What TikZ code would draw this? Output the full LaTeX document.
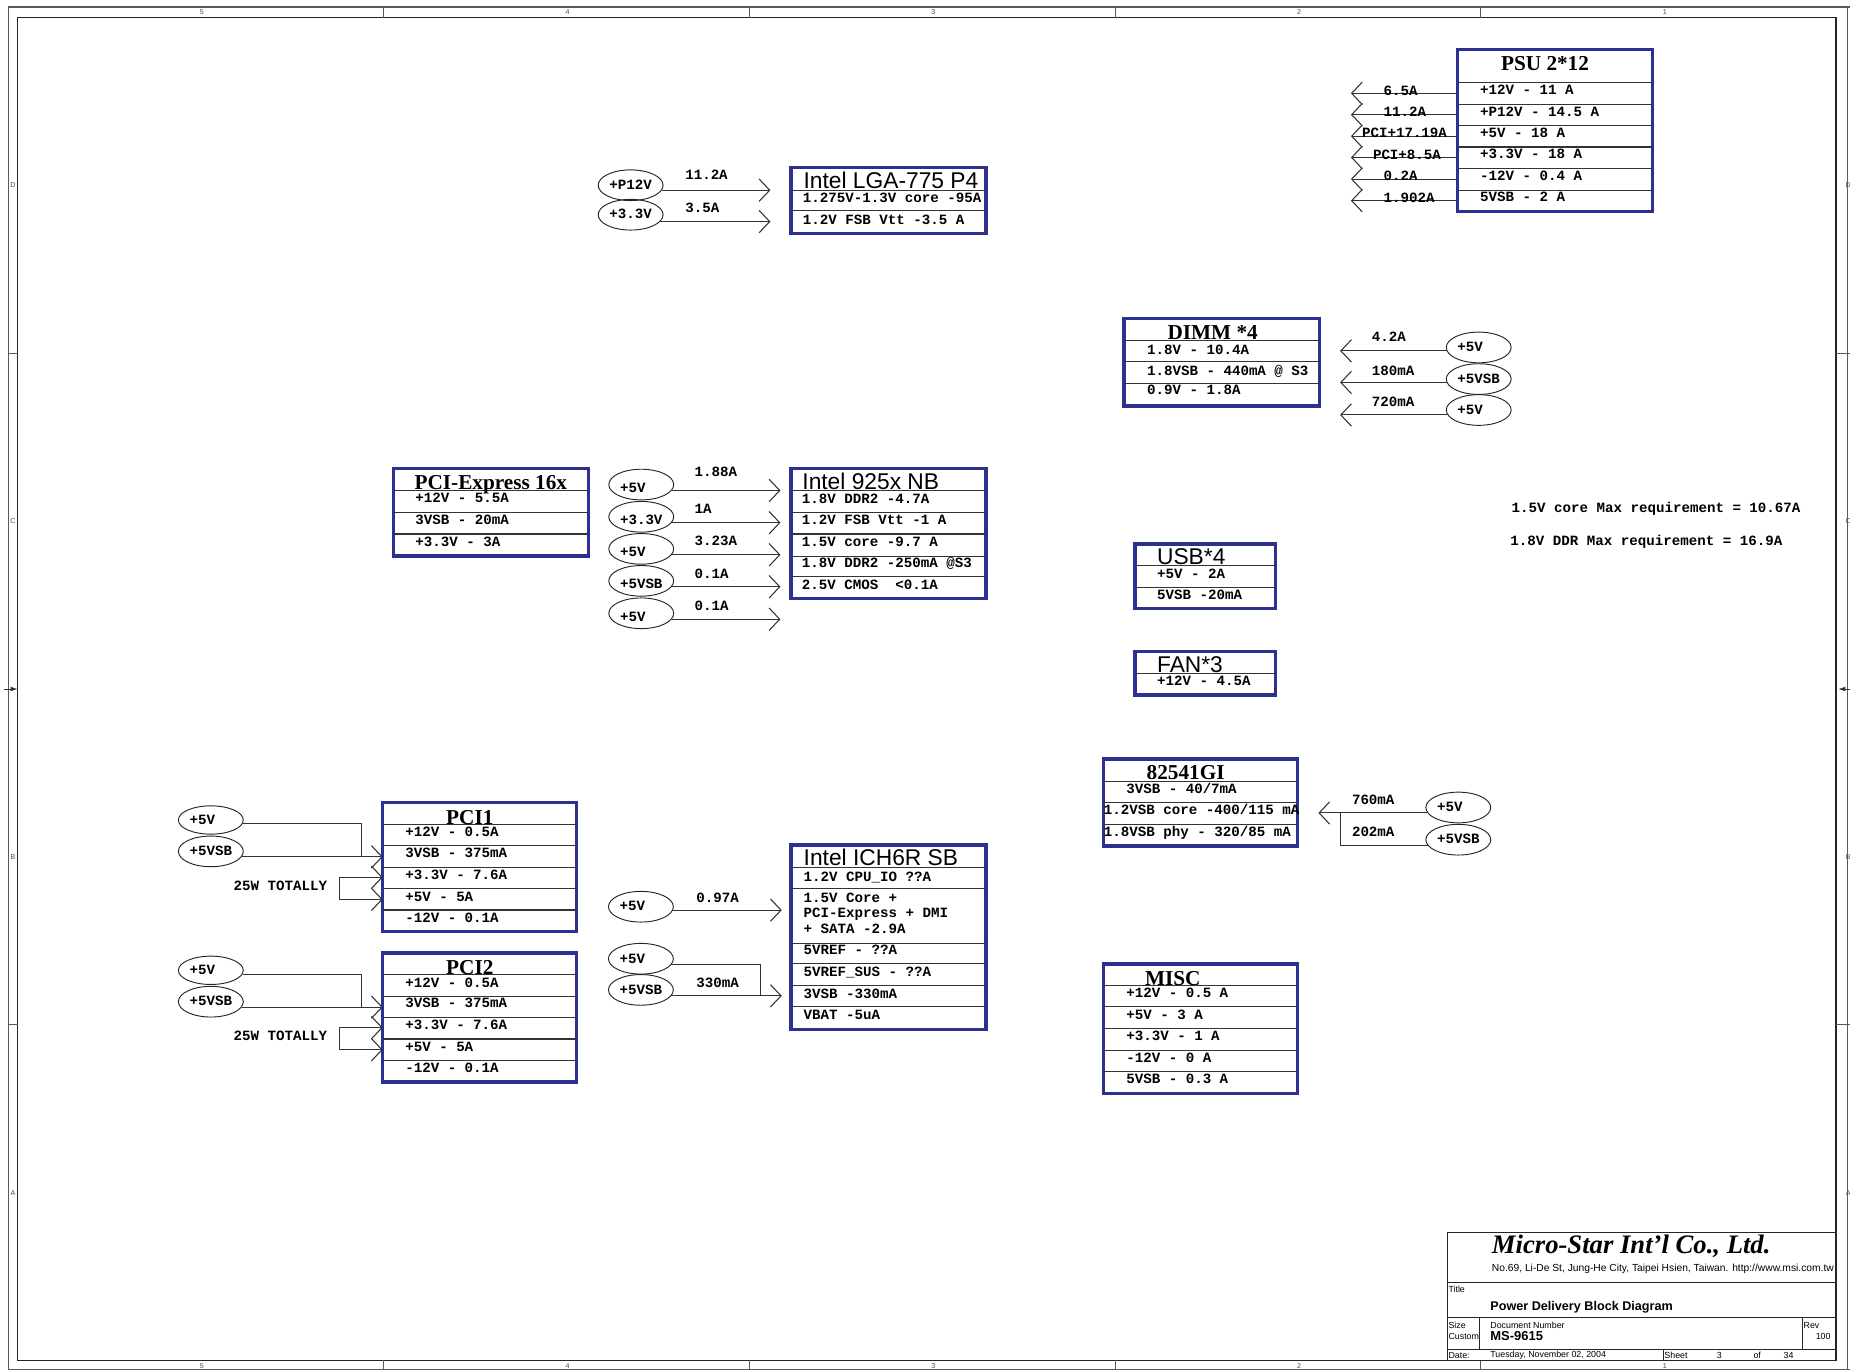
\documentclass[tikz,border=0pt]{standalone}
\usepackage{fontspec}
\setmainfont{Liberation Serif}
\newfontfamily\monof{Liberation Mono}
\newfontfamily\sansf{Liberation Sans}
\usetikzlibrary{arrows.meta,shapes.geometric}
\definecolor{navy}{RGB}{44,48,145}
\tikzset{
 box/.style={draw=navy, line width=2.8pt, anchor=north west, inner sep=0pt, outer sep=0pt},
 sepl/.style={draw=black!80, line width=0.9pt},
 rt/.style={anchor=base west, inner sep=0pt, font=\monof\bfseries\fontsize{12}{12}\selectfont},
 tserif/.style={anchor=base, inner sep=0pt, font=\bfseries\fontsize{18}{18}\selectfont},
 tsans/.style={anchor=base west, inner sep=0pt, font=\sansf\fontsize{19.3}{19.3}\selectfont},
 pwr/.style={ellipse, draw=black!85, line width=0.8pt, minimum width=55pt, minimum height=26pt, inner sep=0pt, text width=36pt, align=left, text height=7.2pt, text depth=0pt, font=\monof\bfseries\fontsize{12}{12}\selectfont},
 pwrlow/.style={pwr, text height=13.5pt},
 wire/.style={draw=black!80, line width=0.9pt},
 arr/.style={wire, -{Straight Barb[length=9pt,width=19pt]}},
 barr/.style={wire, {Straight Barb[length=9pt,width=19pt]}-{Straight Barb[length=9pt,width=19pt]}},
 tbl/.style={draw=black!85, line width=0.9pt},
 tbs/.style={inner sep=0pt, font=\sansf\fontsize{7.5}{7.5}\selectfont},
 flbl/.style={inner sep=0pt, text=black!70, font=\sansf\fontsize{6}{6}\selectfont},
}
\begin{document}
\begin{tikzpicture}[x=1pt,y=-1pt]
\useasboundingbox (0,0) rectangle (1568,1161);
\clip (0,0) rectangle (1568,1161);
% ---------------- frame
\draw[black!65, line width=1.2pt] (7,6) -- (1575,6) (7,6) -- (7,1161) (7,1161) -- (1575,1161);
\draw[black!85, line width=1.2pt] (15,15) rectangle (1556,1153);
\draw[black!65, line width=0.9pt] (1566,6) -- (1566,1161);
\foreach \x in {325,635,945,1255} {\draw[black!65, line width=0.7pt] (\x,6) -- (\x,15) (\x,1153) -- (\x,1161);}
\foreach \x/\l in {171/5,481/4,791/3,1101/2,1411/1} {\node[flbl] at (\x,10.5) {\l}; \node[flbl] at (\x,1157.5) {\l};}
\foreach \y in {299.5,868.5} {\draw[black!65, line width=0.7pt] (7,\y) -- (15,\y) (1556,\y) -- (1568,\y);}
\foreach \y/\l in {157/D,442/C,726/B,1011/A} {\node[flbl] at (11,\y) {\l}; \node[flbl] at (1566.5,\y) {\l};}
\draw[black!80, line width=0.7pt, -{Latex[length=6pt,width=4pt]}] (3,584) -- (15,584);
\draw[black!80, line width=0.7pt, -{Latex[length=6pt,width=4pt]}] (1568,584) -- (1558,584);

% ---------------- Intel LGA-775 P4
\node[box, minimum width=165.2pt, minimum height=56pt] (lga) at (670.5,141.8) {};
\draw[sepl] (670.5,161.6) -- (835.7,161.6) (670.5,178.8) -- (835.7,178.8);
\node[tsans] (lgat) at (680.9,159.6) {Intel LGA-775 P4};
\node[rt] (lga1) at (680.3,172) {1.275V-1.3V core -95A};
\node[rt] (lga2) at (680.3,190) {1.2V FSB Vtt -3.5 A};
\node[pwr] (lgae1) at (534.5,157) {+P12V};
\node[pwr] (lgae2) at (534.5,182) {+3.3V};
\coordinate (lgatip) at (653,0);
\draw[arr] (lgae1.-9) -- (lgae1.-9 -| lgatip);
\draw[arr] (lgae2.-13) -- (lgae2.-13 -| lgatip);
\node[rt] (lgal1) at (580.6,152.5) {11.2A};
\node[rt] (lgal2) at (580.6,180.5) {3.5A};

% ---------------- PSU 2*12
\node[box, minimum width=164.8pt, minimum height=137.6pt] (psu) at (1235.5,41.8) {};
\foreach \y in {69.8,88.2,106.5,124.6,142.8,161.1} {\draw[sepl] (1235.5,\y) -- (1400.3,\y);}
\node[tserif] (psut) at (1309.5,59.9) {PSU 2*12};
\node[rt] (psu1) at (1254.3,80.4) {+12V - 11 A};
\node[rt] (psu2) at (1254.3,98.4) {+P12V - 14.5 A};
\node[rt] (psu3) at (1254.3,116.6) {+5V - 18 A};
\node[rt] (psu4) at (1254.3,134.5) {+3.3V - 18 A};
\node[rt] (psu5) at (1254.3,152.6) {-12V - 0.4 A};
\node[rt] (psu6) at (1254.3,171.1) {5VSB - 2 A};
\coordinate (pp1) at (1145,79.1);
\coordinate (pp2) at (1145,97.2);
\coordinate (pp3) at (1145,115.4);
\coordinate (pp4) at (1145,133.5);
\coordinate (pp5) at (1145,151.8);
\coordinate (pp6) at (1145,170.1);
\foreach \p in {pp1,pp2,pp3,pp4,pp5,pp6} {\draw[arr] (psu.west |- \p) -- (\p);}
\node[rt] (psul1) at (1172.5,80.6) {6.5A};
\node[rt] (psul2) at (1172.5,98.6) {11.2A};
\node[rt] (psul3) at (1154.2,116.8) {PCI+17.19A};
\node[rt] (psul4) at (1163.5,134.8) {PCI+8.5A};
\node[rt] (psul5) at (1172.5,153.1) {0.2A};
\node[rt] (psul6) at (1172.5,171.5) {1.902A};

% ---------------- DIMM*4
\node[box, minimum width=165.6pt, minimum height=74.2pt] (dimm) at (952.7,269.8) {};
\foreach \y in {288.2,306.5,325} {\draw[sepl] (952.7,\y) -- (1118.3,\y);}
\node[tserif] (dimmt) at (1027.8,288) {DIMM *4};
\node[rt] (dimm1) at (972,300.2) {1.8V - 10.4A};
\node[rt] (dimm2) at (972,318) {1.8VSB - 440mA @ S3};
\node[rt] (dimm3) at (972,334.5) {0.9V - 1.8A};
\node[pwr] (de1) at (1253.3,294.5) {+5V};
\node[pwr] (de2) at (1253.3,321.3) {+5VSB};
\node[pwr] (de3) at (1253.3,347.5) {+5V};
\coordinate (dtip) at (1135.8,0);
\draw[arr] (de1.186) -- (de1.186 -| dtip);
\draw[arr] (de2.186) -- (de2.186 -| dtip);
\draw[arr] (de3.189) -- (de3.189 -| dtip);
\node[rt] (dl1) at (1162.6,289.5) {4.2A};
\node[rt] (dl2) at (1162.6,318) {180mA};
\node[rt] (dl3) at (1162.6,344.8) {720mA};

% ---------------- PCI-Express 16x
\node[box, minimum width=165pt, minimum height=74.3pt] (pcie) at (333.5,397) {};
\foreach \y in {415.9,434.3,452.6} {\draw[sepl] (333.5,\y) -- (498.5,\y);}
\node[tserif] (pciet) at (416,415) {PCI-Express 16x};
\node[rt] (pcie1) at (351.9,425.9) {+12V - 5.5A};
\node[rt] (pcie2) at (351.9,444.8) {3VSB - 20mA};
\node[rt] (pcie3) at (351.9,463.2) {+3.3V - 3A};

% ---------------- Intel 925x NB
\node[box, minimum width=165.2pt, minimum height=110.1pt] (nb) at (670.5,397) {};
\foreach \y in {415.9,434.3,452.6,471.3,488.8} {\draw[sepl] (670.5,\y) -- (835.7,\y);}
\node[tsans] (nbt) at (679.9,414.6) {Intel 925x NB};
\node[rt] (nb1) at (679.5,426.4) {1.8V DDR2 -4.7A};
\node[rt] (nb2) at (679.5,444.8) {1.2V FSB Vtt -1 A};
\node[rt] (nb3) at (679.5,463.2) {1.5V core -9.7 A};
\node[rt] (nb4) at (679.5,481) {1.8V DDR2 -250mA @S3};
\node[rt] (nb5) at (679.5,500) {2.5V CMOS\ \ <0.1A};
\node[pwrlow] (ne1) at (543.5,410.7) {+5V};
\node[pwrlow] (ne2) at (543.5,438) {+3.3V};
\node[pwrlow] (ne3) at (543.5,465.2) {+5V};
\node[pwrlow] (ne4) at (543.5,492.3) {+5VSB};
\node[pwrlow] (ne5) at (543.5,519.8) {+5V};
\coordinate (ntip) at (661.5,0);
\foreach \e in {ne1,ne2,ne3,ne4,ne5} {\draw[arr] (\e.-11) -- (\e.-11 -| ntip);}
\node[rt] (nl1) at (588.5,404) {1.88A};
\node[rt] (nl2) at (588.5,435.2) {1A};
\node[rt] (nl3) at (588.5,462.6) {3.23A};
\node[rt] (nl4) at (588.5,490) {0.1A};
\node[rt] (nl5) at (588.5,517.1) {0.1A};

% ---------------- requirements
\node[rt] (req1) at (1281,434.5) {1.5V core Max requirement = 10.67A};
\node[rt] (req2) at (1280,462.5) {1.8V DDR Max requirement = 16.9A};

% ---------------- USB*4 / FAN*3
\node[box, minimum width=119pt, minimum height=55pt] (usb) at (962,461) {};
\foreach \y in {479.5,497.8} {\draw[sepl] (962,\y) -- (1081,\y);}
\node[tsans] (usbt) at (980.5,478.8) {USB*4};
\node[rt] (usb1) at (980.5,490.2) {+5V - 2A};
\node[rt] (usb2) at (980.5,507.8) {5VSB -20mA};
\node[box, minimum width=119pt, minimum height=37pt] (fan) at (962,552) {};
\draw[sepl] (962,571) -- (1081,571);
\node[tsans] (fant) at (980.5,570.2) {FAN*3};
\node[rt] (fan1) at (980.5,581.3) {+12V - 4.5A};

% ---------------- 82541GI
\node[box, minimum width=164.4pt, minimum height=73.8pt] (gi) at (935.2,643.3) {};
\foreach \y in {662,680,698.7} {\draw[sepl] (935.2,\y) -- (1099.6,\y);}
\node[tserif] (git) at (1004.9,660.5) {82541GI};
\node[rt] (gi1) at (954.4,672.5) {3VSB - 40/7mA};
\node[rt] (gi2) at (935.5,690.6) {1.2VSB core -400/115 mA};
\node[rt] (gi3) at (935.5,709) {1.8VSB phy - 320/85 mA};
\node[pwr] (ge1) at (1236,684.4) {+5V};
\node[pwr] (ge2) at (1236,711.7) {+5VSB};
\coordinate (gtip) at (1117.4,0);
\coordinate (gj) at (1135.8,0);
\draw[arr] (ge1.190) -- (ge1.190 -| gtip);
\draw[wire] (ge2.191) -| (ge1.190 -| gj);
\node[rt] (gl1) at (1145.7,681.5) {760mA};
\node[rt] (gl2) at (1145.7,709) {202mA};

% ---------------- MISC
\node[box, minimum width=164.4pt, minimum height=109.6pt] (misc) at (935.2,817.1) {};
\foreach \y in {835.5,853.3,871.6,890,908.4} {\draw[sepl] (935.2,\y) -- (1099.6,\y);}
\node[tserif] (misct) at (994,834.9) {MISC};
\node[rt] (misc1) at (954.4,845.5) {+12V - 0.5 A};
\node[rt] (misc2) at (954.4,863.8) {+5V - 3 A};
\node[rt] (misc3) at (954.4,881.6) {+3.3V - 1 A};
\node[rt] (misc4) at (954.4,900.5) {-12V - 0 A};
\node[rt] (misc5) at (954.4,918.3) {5VSB - 0.3 A};

% ---------------- Intel ICH6R SB
\node[box, minimum width=165.2pt, minimum height=156.3pt] (ich) at (670.5,716.2) {};
\foreach \y in {735.2,753,799.6,816.5,834.9,853.3} {\draw[sepl] (670.5,\y) -- (835.7,\y);}
\node[tsans] (icht) at (681,733.8) {Intel ICH6R SB};
\node[rt] (ich1) at (680.9,746.8) {1.2V CPU\_IO ??A};
\node[rt] (ich2a) at (680.9,764.9) {1.5V Core +};
\node[rt] (ich2b) at (680.9,777.8) {PCI-Express + DMI};
\node[rt] (ich2c) at (680.9,791.2) {+ SATA -2.9A};
\node[rt] (ich3) at (680.9,809.3) {5VREF - ??A};
\node[rt] (ich4) at (680.9,828) {5VREF\_SUS - ??A};
\node[rt] (ich5) at (680.9,846) {3VSB -330mA};
\node[rt] (ich6) at (680.9,863.8) {VBAT -5uA};
\node[pwr] (ie1) at (543.2,768.5) {+5V};
\node[pwr] (ie2) at (543.2,812.6) {+5V};
\node[pwr] (ie3) at (543.2,839) {+5VSB};
\coordinate (itip) at (662.6,0);
\coordinate (ij) at (644.2,0);
\draw[arr] (ie1.-6) -- (ie1.-6 -| itip);
\draw[arr] (ie3.-11) -- (ie3.-11 -| itip);
\draw[wire] (ie2.-11) -| (ie3.-11 -| ij);
\node[rt] (il1) at (590,765) {0.97A};
\node[rt] (il2) at (590,837) {330mA};

% ---------------- PCI1
\node[box, minimum width=164.4pt, minimum height=109.3pt] (pcia) at (324.4,680.4) {};
\foreach \y in {698.7,716.8,735.1,753.2,771.3} {\draw[sepl] (324.4,\y) -- (488.8,\y);}
\node[tserif] (pciat) at (398.2,698.5) {PCI1};
\node[rt] (pcia1) at (343.3,709.3) {+12V - 0.5A};
\node[rt] (pcia2) at (343.3,726.8) {3VSB - 375mA};
\node[rt] (pcia3) at (343.3,745.1) {+3.3V - 7.6A};
\node[rt] (pcia4) at (343.3,764.1) {+5V - 5A};
\node[rt] (pcia5) at (343.3,781.9) {-12V - 0.1A};
\node[pwr, minimum height=24pt] (ae1) at (178.7,695) {+5V};
\node[pwr] (ae2) at (178.7,721.6) {+5VSB};
\coordinate (aj) at (306.5,0);
\draw[arr] (ae2.-10) -- (ae2.-10 -| pcia.west);
\draw[wire] (ae1.-7) -| (ae2.-10 -| aj);
\coordinate (aba) at (288,743.6);
\coordinate (abb) at (288,762.3);
\draw[barr] (pcia.west |- aba) -- (aba) -- (abb) -- (pcia.west |- abb);
\node[rt] (atot) at (197.8,754.5) {25W TOTALLY};

% ---------------- PCI2
\node[box, minimum width=164.4pt, minimum height=109.3pt] (pcib) at (324.4,807.8) {};
\foreach \y in {826.1,844.2,862.5,880.6,898.7} {\draw[sepl] (324.4,\y) -- (488.8,\y);}
\node[tserif] (pcibt) at (398.2,825.9) {PCI2};
\node[rt] (pcib1) at (343.3,836.7) {+12V - 0.5A};
\node[rt] (pcib2) at (343.3,854.2) {3VSB - 375mA};
\node[rt] (pcib3) at (343.3,872.5) {+3.3V - 7.6A};
\node[rt] (pcib4) at (343.3,891.5) {+5V - 5A};
\node[rt] (pcib5) at (343.3,909.3) {-12V - 0.1A};
\node[pwr, minimum height=24pt] (be1) at (178.7,822.4) {+5V};
\node[pwr] (be2) at (178.7,849) {+5VSB};
\coordinate (bj) at (306.5,0);
\draw[arr] (be2.-10) -- (be2.-10 -| pcib.west);
\draw[wire] (be1.-7) -| (be2.-10 -| bj);
\coordinate (bba) at (288,871);
\coordinate (bbb) at (288,889.7);
\draw[barr] (pcib.west |- bba) -- (bba) -- (bbb) -- (pcib.west |- bbb);
\node[rt] (btot) at (197.8,881.9) {25W TOTALLY};

% ---------------- title block
\draw[tbl] (1226.5,1044.5) rectangle (1556,1153);
\draw[tbl] (1226.5,1087) -- (1556,1087) (1226.5,1117) -- (1556,1117) (1226.5,1144) -- (1556,1144);
\draw[tbl] (1254,1117) -- (1254,1144) (1528,1117) -- (1528,1144) (1409.6,1144) -- (1409.6,1153);
\node[anchor=base west, inner sep=0pt, font=\bfseries\itshape\fontsize{22.6}{22.6}\selectfont] (company) at (1264.3,1062.3) {Micro-Star Int'l Co., Ltd.};
\node[anchor=base west, inner sep=0pt, font=\sansf\fontsize{8.7}{8.7}\selectfont] (addr) at (1264.3,1077.5) {No.69, Li-De St, Jung-He City, Taipei Hsien, Taiwan. http://www.msi.com.tw};
\node[tbs, anchor=north west] (ttl) at (1227.5,1090) {Title};
\node[anchor=base west, inner sep=0pt, font=\sansf\bfseries\fontsize{10.7}{10.7}\selectfont] (ttlv) at (1263,1110.4) {Power Delivery Block Diagram};
\node[tbs, anchor=west] (size) at (1227.5,1123.1) {Size};
\node[tbs, anchor=west] (cust) at (1227.5,1132.3) {Custom};
\node[tbs, anchor=west] (docn) at (1263,1123.1) {Document Number};
\node[anchor=base west, inner sep=0pt, font=\sansf\bfseries\fontsize{11}{11}\selectfont] (docv) at (1263,1135.8) {MS-9615};
\node[tbs, anchor=west] (rev) at (1528.5,1123.1) {Rev};
\node[tbs, anchor=east] (revv) at (1551.7,1132.3) {100};
\node[tbs, anchor=west] (date) at (1227.5,1149) {Date:};
\node[tbs, anchor=west] (datev) at (1263,1149) {Tuesday, November 02, 2004};
\node[tbs, anchor=west] (sheet) at (1410.5,1149) {Sheet};
\node[tbs, anchor=west] (sheetn) at (1455,1149) {3};
\node[tbs, anchor=west] (sheetof) at (1486,1149) {of};
\node[tbs, anchor=west] (sheett) at (1511.6,1149) {34};
\end{tikzpicture}
\end{document}
